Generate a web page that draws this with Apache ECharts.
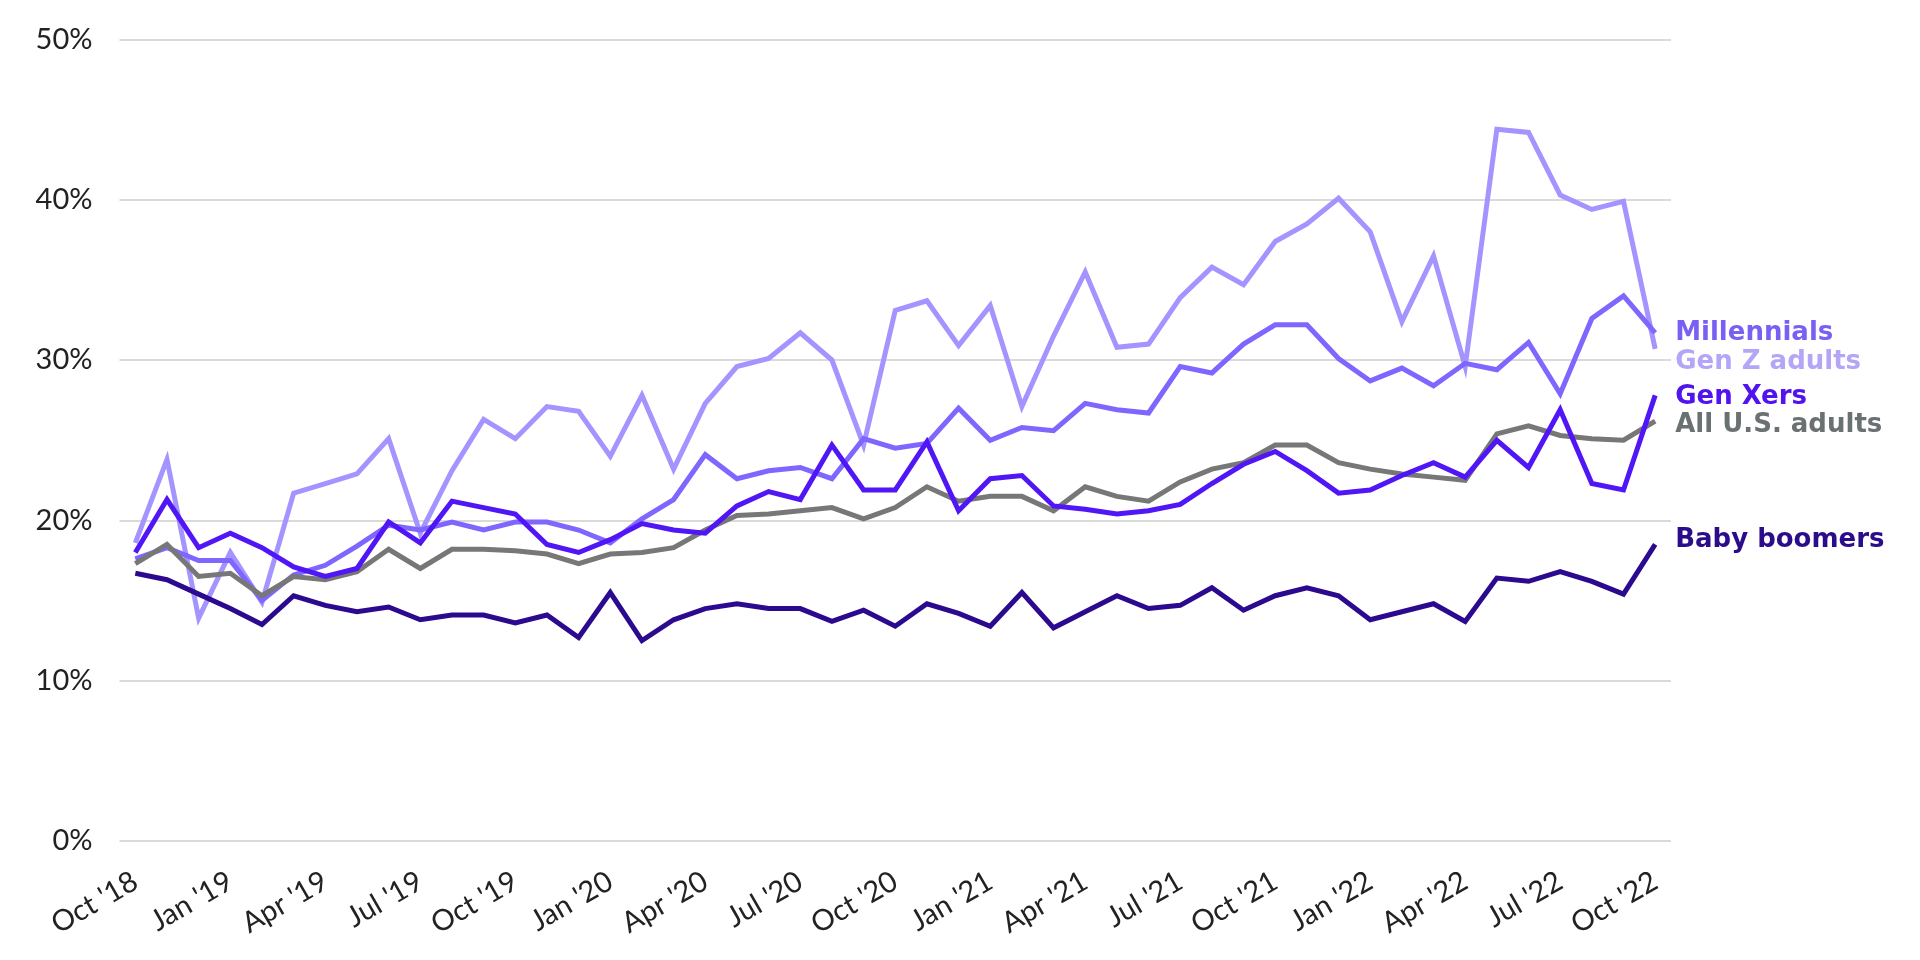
<!DOCTYPE html>
<html>
<head>
<meta charset="utf-8">
<script src="https://cdn.jsdelivr.net/npm/echarts@6/dist/echarts.min.js"></script>
<style>
html,body{margin:0;padding:0;background:#fff;}
#chart{width:1920px;height:960px;}
</style>
</head>
<body>
<div id="chart"></div>
<script>
const months = ["Oct '18","Nov '18","Dec '18","Jan '19","Feb '19","Mar '19","Apr '19","May '19","Jun '19","Jul '19","Aug '19","Sep '19",
"Oct '19","Nov '19","Dec '19","Jan '20","Feb '20","Mar '20","Apr '20","May '20","Jun '20","Jul '20","Aug '20","Sep '20",
"Oct '20","Nov '20","Dec '20","Jan '21","Feb '21","Mar '21","Apr '21","May '21","Jun '21","Jul '21","Aug '21","Sep '21",
"Oct '21","Nov '21","Dec '21","Jan '22","Feb '22","Mar '22","Apr '22","May '22","Jun '22","Jul '22","Aug '22","Sep '22","Oct '22"];

const genZ = [18.6,23.8,13.9,18.0,14.9,21.7,22.3,22.9,25.1,19.2,23.1,26.3,
25.1,27.1,26.8,24.0,27.8,23.2,27.3,29.6,30.1,31.7,30.0,24.7,
33.1,33.7,30.9,33.4,27.1,31.5,35.5,30.8,31.0,33.9,35.8,34.7,
37.4,38.5,40.1,38.0,32.4,36.5,29.6,44.4,44.2,40.3,39.4,39.9,30.7];

const millennials = [17.6,18.3,17.5,17.5,15.0,16.6,17.2,18.4,19.7,19.4,19.9,19.4,
19.9,19.9,19.4,18.6,20.1,21.3,24.1,22.6,23.1,23.3,22.6,25.1,
24.5,24.8,27.0,25.0,25.8,25.6,27.3,26.9,26.7,29.6,29.2,31.0,
32.2,32.2,30.1,28.7,29.5,28.4,29.8,29.4,31.1,27.9,32.6,34.0,31.7];

const genX = [18.0,21.3,18.3,19.2,18.3,17.1,16.5,17.0,19.9,18.6,21.2,20.8,
20.4,18.5,18.0,18.8,19.8,19.4,19.2,20.9,21.8,21.3,24.7,21.9,
21.9,24.9,20.6,22.6,22.8,20.9,20.7,20.4,20.6,21.0,22.3,23.5,
24.3,23.1,21.7,21.9,22.8,23.6,22.7,25.0,23.3,26.9,22.3,21.9,27.8];

const allAdults = [17.3,18.5,16.5,16.7,15.3,16.5,16.3,16.8,18.2,17.0,18.2,18.2,
18.1,17.9,17.3,17.9,18.0,18.3,19.4,20.3,20.4,20.6,20.8,20.1,
20.8,22.1,21.2,21.5,21.5,20.6,22.1,21.5,21.2,22.4,23.2,23.6,
24.7,24.7,23.6,23.2,22.9,22.7,22.5,25.4,25.9,25.3,25.1,25.0,26.2];

const boomers = [16.7,16.3,15.4,14.5,13.5,15.3,14.7,14.3,14.6,13.8,14.1,14.1,
13.6,14.1,12.7,15.5,12.5,13.8,14.5,14.8,14.5,14.5,13.7,14.4,
13.4,14.8,14.2,13.4,15.5,13.3,14.3,15.3,14.5,14.7,15.8,14.4,
15.3,15.8,15.3,13.8,14.3,14.8,13.7,16.4,16.2,16.8,16.2,15.4,18.5];

const yTicks = [0,10,20,30,40,50];

const labelFont = 'DejaVu Sans';
function line(name, data, color, labelColor, dy){
  return {
    name: name, type: 'line', data: data, symbol: 'none', smooth: false,
    lineStyle: {color: color, width: 5, join: 'miter', cap: 'butt'},
    itemStyle: {color: color},
    emphasis: {disabled: true},
    endLabel: {
      show: true, formatter: name, distance: 20, offset: [0, dy],
      color: labelColor, fontFamily: labelFont, fontWeight: 'bold', fontSize: 26
    }
  };
}

const chart = echarts.init(document.getElementById('chart'), null, {renderer: 'canvas'});
chart.setOption({
  animation: false,
  backgroundColor: '#ffffff',
  grid: {left: 119.5, right: 249, top: 39.5, bottom: 119, containLabel: false},
  xAxis: {
    type: 'category', data: months, boundaryGap: true,
    axisLine: {show: false}, axisTick: {show: false},
    axisLabel: {interval: 2, rotate: 30, margin: 38, color: '#222', fontFamily: 'Lato', fontSize: 29},
    splitLine: {show: false}
  },
  yAxis: {
    type: 'value', min: yTicks[0], max: yTicks[yTicks.length-1], interval: 10,
    axisLine: {show: false}, axisTick: {show: false},
    axisLabel: {formatter: '{value}%', margin: 27, color: '#222', fontFamily: 'Lato', fontSize: 29},
    splitLine: {show: true, lineStyle: {color: '#dadada', width: 2}}
  },
  series: [
    line('Gen Z adults', genZ, '#a394ff', '#b4a5f7', 13),
    line('Millennials', millennials, '#7e66ff', '#7a5ff5', 0),
    line('All U.S. adults', allAdults, '#777777', '#6a7173', 4),
    line('Gen Xers', genX, '#5016f5', '#5214ee', 2),
    line('Baby boomers', boomers, '#2b0a8f', '#2b0c8a', -4)
  ]
});
</script>
</body>
</html>
